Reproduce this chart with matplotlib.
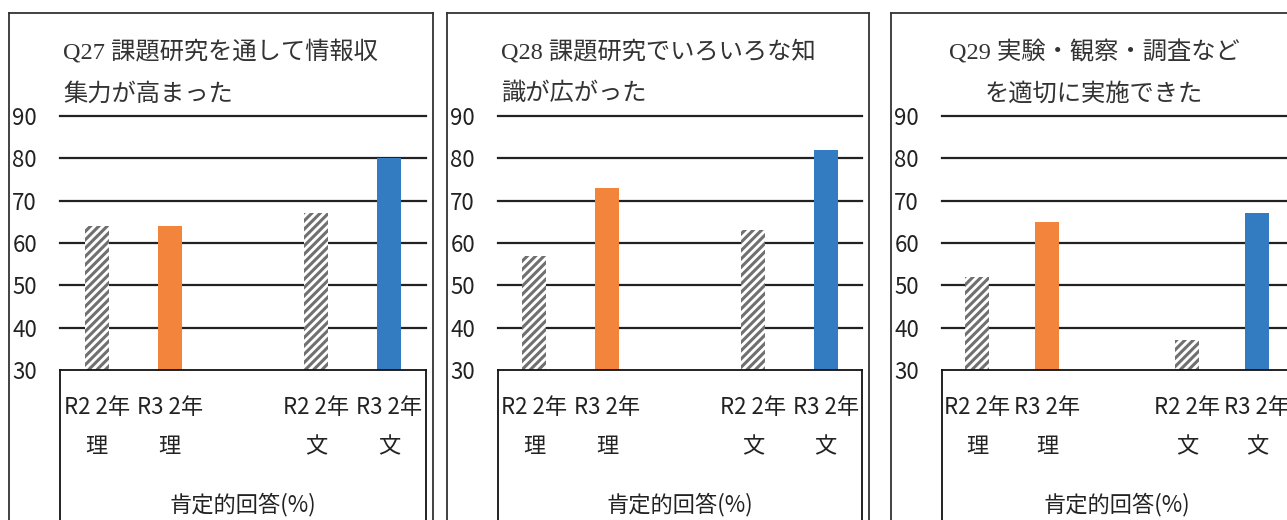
import matplotlib.pyplot as plt
from matplotlib.lines import Line2D

plt.rcParams['font.family'] = ['Noto Sans CJK JP', 'DejaVu Sans']
plt.rcParams['hatch.linewidth'] = 2.2

# data
groups = ["R2 2年\n理", "R3 2年\n理", "", "R2 2年\n文", "R3 2年\n文"]
q27 = [64, 64, None, 67, 80]
q28 = [57, 73, None, 63, 82]
q29 = [52, 65, None, 37, 67]
titles = [("Q27", "課題研究を通して情報収", "集力が高まった"),
          ("Q28", "課題研究でいろいろな知", "識が広がった"),
          ("Q29", "実験・観察・調査など", "を適切に実施できた")]
yticks = [30, 40, 50, 60, 70, 80, 90]
xlabel = "肯定的回答(%)"

W, H = 1287, 520
fig = plt.figure(figsize=(W / 100, H / 100), dpi=100)

# layout in pixels: plot left, plot right, frame left, frame right, title x, title align
panels = [(60, 426, 9, 433, 63, 'left'),
          (498, 862, 447, 869, 501, 'left'),
          (942, 1292, 891, 1320, 1094, 'center')]
top_px, bot_px = 116, 370

orange = '#F3843C'
blue = '#337CC1'
gray = '#707070'

def fx(px):
    return px / W

def fy(py):
    return 1 - py / H

for (x0, x1, f0, f1, tx, ta), vals, (qn, t1, t2) in zip(panels, [q27, q28, q29], titles):
    # outer frame
    for xs, ys in [([f0, f0], [13, 530]), ([f1, f1], [13, 530]), ([f0, f1], [13, 13])]:
        fig.add_artist(Line2D([fx(x) for x in xs], [fy(y) for y in ys],
                              transform=fig.transFigure, color='#333333', lw=1.3))

    ax = fig.add_axes([fx(x0), fy(bot_px), fx(x1) - fx(x0), (bot_px - top_px) / H])
    ax.set_xlim(-0.5, 4.5)
    ax.set_ylim(30, 90)
    for y in yticks[1:]:
        ax.axhline(y, color='#222222', lw=1.6, zorder=1, clip_on=False)

    for i, v in enumerate(vals):
        if v is None:
            continue
        if i in (0, 3):
            ax.bar(i, v - 30, bottom=30, width=0.33, color='white', edgecolor=gray,
                   hatch='////', lw=0, zorder=2)
        elif i == 1:
            ax.bar(i, v - 30, bottom=30, width=0.33, color=orange, lw=0, zorder=2)
        else:
            ax.bar(i, v - 30, bottom=30, width=0.33, color=blue, lw=0, zorder=2)

    for s in ['top', 'right', 'left']:
        ax.spines[s].set_visible(False)
    ax.spines['bottom'].set_color('#111111')
    ax.spines['bottom'].set_linewidth(1.3)
    ax.spines['bottom'].set_zorder(3)
    ax.set_yticks(yticks)
    ax.tick_params(axis='y', length=0, pad=16.5, labelsize=16, labelcolor='#222222')
    ax.set_xticks([])

    # category box below the plot
    for xb in [0, 1]:
        ax.plot([xb, xb], [0, -0.7], transform=ax.transAxes, clip_on=False,
                color='#111111', lw=1.3)

    trans = ax.get_xaxis_transform()
    for i, g in enumerate(groups):
        if not g:
            continue
        l1, l2 = g.split("\n")
        ax.text(i, (bot_px - 408) / (bot_px - top_px), l1, transform=trans,
                ha='center', va='center', fontsize=16, color='#222222')
        ax.text(i, (bot_px - 447) / (bot_px - top_px), l2, transform=trans,
                ha='center', va='center', fontsize=16, color='#222222')
    ax.text(2, (bot_px - 505) / (bot_px - top_px), xlabel, transform=trans,
            ha='center', va='center', fontsize=16, color='#222222')

    # title
    fig.text(fx(tx), fy(52), qn + " " + t1, ha=ta, va='center', fontsize=17.5,
             color='#333333', family=['Liberation Serif', 'Noto Sans CJK JP'])
    fig.text(fx(tx), fy(94), t2, ha=ta, va='center', fontsize=17.5,
             color='#333333', family=['Liberation Serif', 'Noto Sans CJK JP'])

fig.savefig("out.png", dpi=100)
